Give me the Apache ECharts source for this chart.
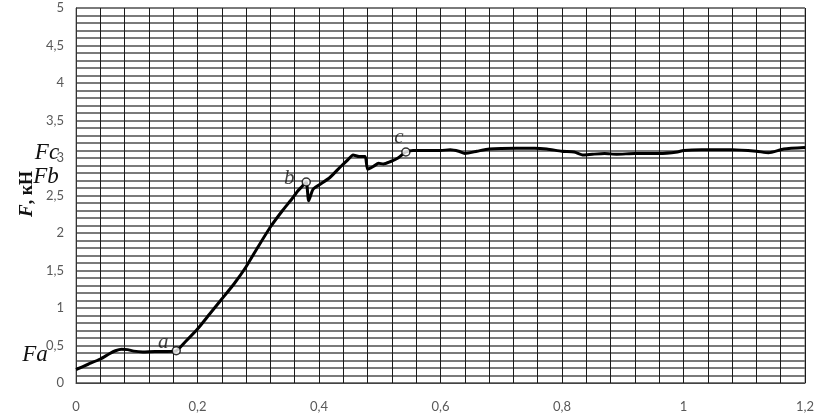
<!DOCTYPE html>
<html>
<head>
<meta charset="utf-8">
<style>
  html, body { margin: 0; padding: 0; background: #fff; }
  #chart { width: 827px; height: 416px; }
</style>
<script src="https://cdn.jsdelivr.net/npm/echarts@6/dist/echarts.min.js"></script>
</head>
<body>
<div id="chart"></div>
<script>
// displacement (x) and force F, kN (y)
var forceX = [0, 0.02, 0.04, 0.055, 0.065, 0.075, 0.085, 0.095, 0.11, 0.13, 0.15, 0.165,
  0.18, 0.2, 0.22, 0.24, 0.26, 0.28, 0.3, 0.32, 0.34, 0.355, 0.365, 0.372, 0.379,
  0.383, 0.39, 0.4, 0.418, 0.435, 0.448, 0.456, 0.466, 0.476, 0.48, 0.49, 0.498,
  0.506, 0.517, 0.53, 0.543, 0.555, 0.6, 0.616, 0.63, 0.64, 0.66, 0.68, 0.725,
  0.755, 0.775, 0.8, 0.82, 0.835, 0.85, 0.87, 0.89, 0.92, 0.96, 0.99, 1.0, 1.03,
  1.08, 1.12, 1.14, 1.165, 1.2];
var forceY = [0.18, 0.25, 0.32, 0.39, 0.43, 0.45, 0.445, 0.425, 0.415, 0.42, 0.42, 0.43,
  0.55, 0.72, 0.92, 1.12, 1.32, 1.55, 1.82, 2.08, 2.3, 2.45, 2.56, 2.62, 2.68,
  2.43, 2.58, 2.64, 2.74, 2.88, 2.98, 3.04, 3.02, 3.02, 2.85, 2.89, 2.93,
  2.92, 2.95, 3.0, 3.08, 3.1, 3.1, 3.11, 3.09, 3.06, 3.09, 3.12, 3.13,
  3.13, 3.12, 3.09, 3.08, 3.04, 3.05, 3.06, 3.05, 3.06, 3.06, 3.08, 3.1, 3.11,
  3.11, 3.09, 3.07, 3.12, 3.14];

// characteristic points a, b, c
var pointNames = ['a', 'b', 'c'];
var pointX = [0.165, 0.379, 0.543];
var pointY = [0.43, 2.68, 3.08];

var xMin = 0, xMax = 1.2, xStep = 0.04, xLabelStep = 0.2;
var yMin = 0, yMax = 5, yStep = 0.1, yLabelStep = 0.5;

function onStep(v, step) {
  var r = v / step;
  return Math.abs(r - Math.round(r)) < 1e-6;
}
function fmt(v) {
  return String(+v.toFixed(2)).replace('.', ',');
}

var chart = echarts.init(document.getElementById('chart'));

var curve = forceX.map(function (x, i) { return [x, forceY[i]]; });
var points = pointX.map(function (x, i) { return { name: pointNames[i], value: [x, pointY[i]] }; });
var labelOffsets = [[-13, -8], [-17, -4], [-7, -15]];

var serif = '"Liberation Serif", "DejaVu Serif", serif';

chart.setOption({
  animation: false,
  grid: { left: 76, right: 22, top: 8, bottom: 33, containLabel: false },
  xAxis: {
    type: 'value',
    min: xMin,
    max: xMax,
    interval: xStep,
    axisLine: { show: true, lineStyle: { color: '#444', width: 1 } },
    axisTick: { show: false },
    splitLine: { show: true, lineStyle: { color: '#1a1a1a', width: 1 } },
    axisLabel: {
      margin: 17,
      color: '#595959',
      fontFamily: 'Lato, "Open Sans", sans-serif',
      fontSize: 13,
      formatter: function (v) { return onStep(v, xLabelStep) ? fmt(v) : ''; }
    }
  },
  yAxis: {
    type: 'value',
    min: yMin,
    max: yMax,
    interval: yStep,
    axisLine: { show: true, lineStyle: { color: '#333', width: 1 } },
    axisTick: { show: false },
    splitLine: { show: true, lineStyle: { color: '#7a7a7a', width: 2 } },
    axisLabel: {
      margin: 12,
      color: '#595959',
      fontFamily: 'Lato, "Open Sans", sans-serif',
      fontSize: 13,
      formatter: function (v) { return onStep(v, yLabelStep) ? fmt(v) : ''; }
    }
  },
  graphic: [
    { type: 'rect', shape: { x: 76, y: 8, width: 729, height: 375 }, style: { fill: 'none', stroke: '#7a7a7a', lineWidth: 1 }, silent: true, z: -1 },
    {
      type: 'text', x: 27, y: 194, rotation: Math.PI / 2,
      style: {
        text: '{i|F}{n|, кН}', align: 'center', verticalAlign: 'middle',
        rich: {
          i: { fontFamily: serif, fontStyle: 'italic', fontWeight: 'bold', fontSize: 19, fill: '#111' },
          n: { fontFamily: serif, fontWeight: 'bold', fontSize: 18, fill: '#111' }
        }
      }
    },
    { type: 'text', x: 47, y: 153, style: { text: 'Fc', align: 'center', verticalAlign: 'middle', font: 'italic 23px ' + serif, fill: '#111' } },
    { type: 'text', x: 46, y: 177, style: { text: 'Fb', align: 'center', verticalAlign: 'middle', font: 'italic 23px ' + serif, fill: '#111' } },
    { type: 'text', x: 35, y: 355, style: { text: 'Fa', align: 'center', verticalAlign: 'middle', font: 'italic 23px ' + serif, fill: '#111' } }
  ],
  series: [
    {
      type: 'line',
      data: curve,
      showSymbol: false,
      smooth: 0.2,
      lineStyle: { color: '#000', width: 3 },
      z: 3
    },
    {
      type: 'scatter',
      data: points,
      symbol: 'circle',
      symbolSize: 8,
      itemStyle: { color: '#fff', borderColor: '#000', borderWidth: 1.5 },
      label: {
        show: true,
        formatter: '{b}',
        position: 'inside',
        fontFamily: serif,
        fontStyle: 'italic',
        fontSize: 21,
        color: '#111'
      },
      labelLayout: function (p) {
        var o = labelOffsets[p.dataIndex];
        return { dx: o[0], dy: o[1] };
      },
      z: 4
    }
  ]
});
</script>
</body>
</html>
